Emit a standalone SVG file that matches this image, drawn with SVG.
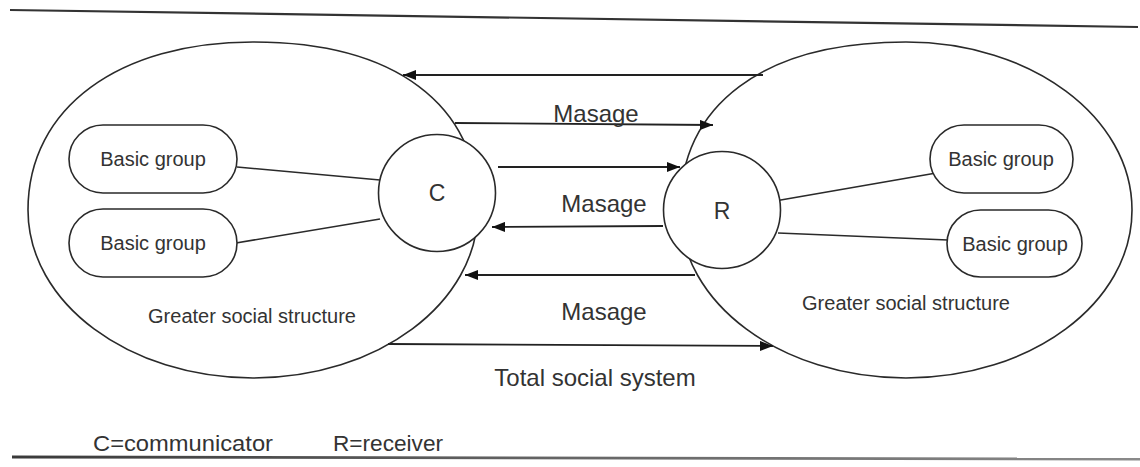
<svg xmlns="http://www.w3.org/2000/svg" width="1140" height="467" viewBox="0 0 1140 467">
<style>
  .shape { fill: #fff; stroke: #2a2a2a; stroke-width: 1.6; }
  .big { fill: none; stroke: #2a2a2a; stroke-width: 1.6; }
  .conn { fill: none; stroke: #2a2a2a; stroke-width: 1.6; }
  .arrow { fill: none; stroke: #222; stroke-width: 1.8; marker-end: url(#ah); }
  text { font-family: "Liberation Sans", Arial, sans-serif; fill: #333; text-anchor: middle; }
  .t20 { font-size: 20px; }
  .t24 { font-size: 24px; }
  .t23 { font-size: 23px; }
  .legend { font-size: 22px; text-anchor: start; }
</style>
<defs>
  <marker id="ah" viewBox="0 0 13 10" refX="13" refY="5" markerWidth="13" markerHeight="10" orient="auto" markerUnits="userSpaceOnUse">
    <path d="M0,0 L13,5 L0,10 z" fill="#111"/>
  </marker>
  <linearGradient id="bl" x1="0" y1="0" x2="1" y2="0">
    <stop offset="0" stop-color="#3a3a3a"/>
    <stop offset="0.5" stop-color="#666"/>
    <stop offset="1" stop-color="#8a8a8a"/>
  </linearGradient>
</defs>

<!-- frame lines -->
<line x1="10" y1="10" x2="1138" y2="27" stroke="#333" stroke-width="2.2"/>
<line x1="12" y1="457" x2="1140" y2="459" stroke="url(#bl)" stroke-width="2.8"/>

<!-- greater social structures -->
<g id="left-structure">
  <path class="big" d="M253,42 C394.75,42 478,104.2 478,210 C478,303 378,378 253,378 C129,378 28,303 28,210 C28,107 120,42 253,42 Z"/>
  <text class="t20" x="252" y="323">Greater social structure</text>
</g>
<g id="right-structure">
  <path class="big" d="M906,42 C1031,42 1132,117 1132,210 C1132,303 1031,378 906,378 C781,378 680,303 680,210 C680,104.2 763.6,42 906,42 Z"/>
  <text class="t20" x="906" y="310">Greater social structure</text>
</g>

<!-- connectors -->
<g id="connectors">
  <line class="conn" x1="237" y1="167" x2="380" y2="180"/>
  <line class="conn" x1="230" y1="244" x2="380" y2="219"/>
  <line class="conn" x1="775" y1="201" x2="942" y2="172"/>
  <line class="conn" x1="778" y1="233" x2="948" y2="240"/>
  <line class="arrow" x1="763" y1="75" x2="403" y2="75"/>
  <line class="arrow" x1="455" y1="123" x2="713" y2="125"/>
  <line class="arrow" x1="498" y1="167" x2="680" y2="167"/>
  <line class="arrow" x1="663" y1="226" x2="492" y2="227"/>
  <line class="arrow" x1="695" y1="275" x2="465" y2="275"/>
  <line class="arrow" x1="388" y1="344" x2="773" y2="346"/>
</g>

<!-- message labels -->
<g id="labels">
  <text class="t24" x="596" y="122">Masage</text>
  <text class="t24" x="604" y="212">Masage</text>
  <text class="t24" x="604" y="320">Masage</text>
  <text class="t24" x="595" y="386">Total social system</text>
</g>

<!-- communicator -->
<g id="node-c">
  <circle class="shape" cx="437" cy="193" r="58.5"/>
  <text class="t23" x="437" y="201">C</text>
</g>
<!-- receiver -->
<g id="node-r">
  <circle class="shape" cx="722" cy="210" r="58.5"/>
  <text class="t23" x="722" y="219">R</text>
</g>

<!-- basic groups -->
<g id="bg-left-1">
  <rect class="shape" x="69" y="125" width="168" height="68" rx="34" ry="34"/>
  <text class="t20" x="153" y="166">Basic group</text>
</g>
<g id="bg-left-2">
  <rect class="shape" x="69" y="209" width="168" height="68" rx="34" ry="34"/>
  <text class="t20" x="153" y="250">Basic group</text>
</g>
<g id="bg-right-1">
  <rect class="shape" x="930" y="125" width="143" height="68" rx="34" ry="34"/>
  <text class="t20" x="1001" y="166">Basic group</text>
</g>
<g id="bg-right-2">
  <rect class="shape" x="947" y="210" width="135" height="67" rx="33.5" ry="33.5"/>
  <text class="t20" x="1015" y="251">Basic group</text>
</g>

<!-- legend -->
<g id="legend">
  <text class="legend" x="93" y="451" textLength="180" lengthAdjust="spacingAndGlyphs">C=communicator</text>
  <text class="legend" x="333" y="451" textLength="110" lengthAdjust="spacingAndGlyphs">R=receiver</text>
</g>
</svg>
